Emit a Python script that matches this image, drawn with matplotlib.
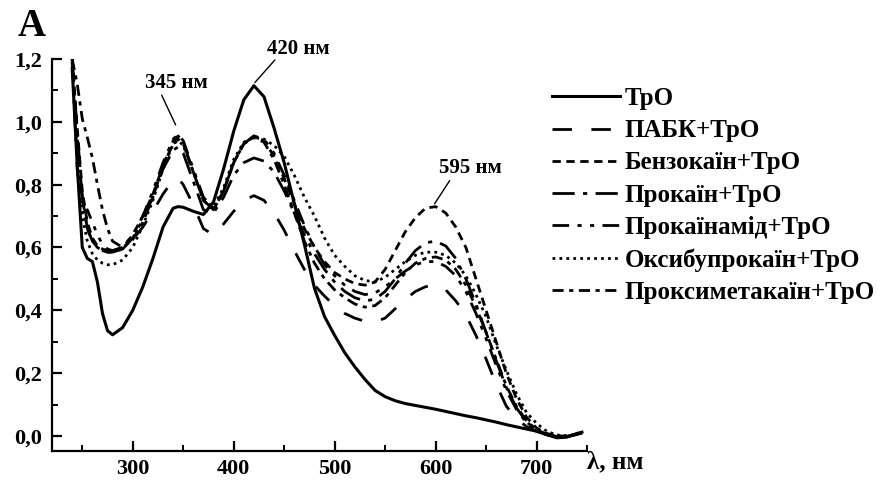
import matplotlib
matplotlib.use("Agg")
import matplotlib.pyplot as plt
from matplotlib.ticker import MultipleLocator, FuncFormatter

plt.rcParams['font.family'] = ['Liberation Serif', 'DejaVu Serif']
plt.rcParams['font.weight'] = 'bold'

wl = [240, 245, 250, 255, 260, 265, 270, 275, 280, 290, 300, 310, 320, 330, 340, 345, 350,
      360, 370, 380, 390, 400, 410, 420, 430, 440, 450, 460, 470, 480, 490, 500, 510, 520,
      530, 540, 550, 560, 570, 580, 590, 600, 610, 620, 630, 640, 650, 660, 670, 680, 690,
      700, 710, 720, 730, 740, 745]

tro = [1.17, 0.86, 0.60, 0.565, 0.555, 0.49, 0.39, 0.335, 0.322, 0.345, 0.40, 0.475, 0.565,
       0.665, 0.725, 0.73, 0.728, 0.715, 0.705, 0.745, 0.85, 0.97, 1.07, 1.115, 1.08, 0.98,
       0.87, 0.74, 0.61, 0.47, 0.38, 0.32, 0.265, 0.22, 0.18, 0.145, 0.125, 0.112, 0.103,
       0.097, 0.091, 0.085, 0.078, 0.071, 0.064, 0.058, 0.051, 0.044, 0.036, 0.029, 0.022,
       0.015, 0.004, -0.006, -0.004, 0.008, 0.012]

pabk = [1.19, 0.95, 0.76, 0.66, 0.62, 0.60, 0.59, 0.585, 0.585, 0.595, 0.625, 0.665, 0.715,
        0.77, 0.815, 0.82, 0.80, 0.735, 0.66, 0.64, 0.675, 0.715, 0.75, 0.765, 0.75, 0.71,
        0.655, 0.59, 0.53, 0.48, 0.445, 0.415, 0.39, 0.375, 0.365, 0.363, 0.375, 0.405, 0.435,
        0.46, 0.475, 0.48, 0.465, 0.43, 0.385, 0.32, 0.245, 0.165, 0.095, 0.055, 0.03, 0.015,
        0.004, -0.002, -0.002, 0.004, 0.008]

benzocaine = [1.2, 0.98, 0.78, 0.68, 0.63, 0.605, 0.595, 0.59, 0.59, 0.60, 0.64, 0.70, 0.77,
              0.86, 0.93, 0.945, 0.93, 0.84, 0.75, 0.72, 0.78, 0.87, 0.93, 0.955, 0.94, 0.89,
              0.82, 0.74, 0.66, 0.60, 0.555, 0.52, 0.50, 0.485, 0.48, 0.49, 0.53, 0.59, 0.65,
              0.695, 0.725, 0.73, 0.71, 0.665, 0.60, 0.50, 0.40, 0.30, 0.20, 0.12, 0.06, 0.025,
              0.008, 0.0, 0.0, 0.006, 0.01]

procaine = [1.2, 0.97, 0.76, 0.66, 0.62, 0.60, 0.59, 0.585, 0.585, 0.595, 0.63, 0.69, 0.76,
            0.85, 0.91, 0.92, 0.90, 0.81, 0.72, 0.71, 0.76, 0.83, 0.87, 0.885, 0.875, 0.84,
            0.78, 0.71, 0.64, 0.58, 0.53, 0.49, 0.46, 0.44, 0.43, 0.435, 0.46, 0.50, 0.55,
            0.59, 0.615, 0.62, 0.605, 0.565, 0.50, 0.42, 0.33, 0.24, 0.155, 0.09, 0.045, 0.018,
            0.004, -0.002, -0.002, 0.005, 0.009]

procainamide = [1.19, 0.85, 0.71, 0.72, 0.68, 0.64, 0.61, 0.595, 0.59, 0.60, 0.64, 0.70, 0.78,
                0.87, 0.945, 0.96, 0.94, 0.85, 0.76, 0.725, 0.78, 0.87, 0.93, 0.955, 0.945,
                0.90, 0.83, 0.75, 0.67, 0.60, 0.545, 0.51, 0.48, 0.46, 0.45, 0.455, 0.475,
                0.50, 0.525, 0.545, 0.555, 0.555, 0.54, 0.51, 0.46, 0.39, 0.31, 0.225, 0.145,
                0.085, 0.042, 0.017, 0.004, -0.002, -0.002, 0.005, 0.009]

oxybuprocaine = [1.2, 0.90, 0.70, 0.62, 0.58, 0.56, 0.55, 0.545, 0.545, 0.56, 0.60, 0.67, 0.75,
                 0.85, 0.93, 0.94, 0.925, 0.84, 0.75, 0.73, 0.79, 0.88, 0.935, 0.95, 0.945,
                 0.925, 0.89, 0.83, 0.76, 0.70, 0.63, 0.575, 0.54, 0.51, 0.495, 0.49, 0.505,
                 0.53, 0.555, 0.575, 0.585, 0.585, 0.575, 0.55, 0.51, 0.45, 0.38, 0.29, 0.21,
                 0.135, 0.075, 0.04, 0.015, 0.003, 0.0, 0.006, 0.01]

proxymetacaine = [1.2, 1.12, 1.01, 0.95, 0.885, 0.80, 0.72, 0.66, 0.62, 0.60, 0.625, 0.68,
                  0.76, 0.86, 0.94, 0.955, 0.935, 0.84, 0.75, 0.72, 0.78, 0.87, 0.93, 0.95,
                  0.935, 0.88, 0.80, 0.71, 0.62, 0.55, 0.50, 0.465, 0.44, 0.42, 0.41, 0.415,
                  0.44, 0.48, 0.52, 0.55, 0.565, 0.57, 0.56, 0.53, 0.48, 0.41, 0.33, 0.245,
                  0.16, 0.095, 0.048, 0.02, 0.005, -0.002, -0.002, 0.005, 0.009]

labels = ["ТрО", "ПАБК+ТрО", "Бензокаїн+ТрО", "Прокаїн+ТрО", "Прокаїнамід+ТрО",
          "Оксибупрокаїн+ТрО", "Проксиметакаїн+ТрО"]
series = [tro, pabk, benzocaine, procaine, procainamide, oxybuprocaine, proxymetacaine]
styles = ['-', (0, (7, 7)), (0, (3, 2)), (0, (8, 3, 1.5, 3)), (0, (6, 3, 1.5, 3, 1.5, 3)),
          (0, (1, 1.5)), (0, (4, 2, 1.5, 2))]

# peak annotations
peak_labels = ["345 нм", "420 нм", "595 нм"]
peak_text_xy = [(343.3, 1.123), (464.5, 1.232), (634.0, 0.854)]
peak_line_from = [(328.6, 1.085), (440.8, 1.197), (614.0, 0.813)]
peak_line_to = [(342.5, 0.99), (421.0, 1.125), (599.0, 0.739)]

fig = plt.figure(figsize=(8.9, 4.83), dpi=100)
ax = fig.add_axes([52/890, 1 - 451/483, (587-52)/890, (451-59)/483])

for y, lab, ls in zip(series, labels, styles):
    ax.plot(wl, y, color='black', lw=2.2 if ls == '-' else 2.0, linestyle=ls, label=lab)

ax.set_xlim(220, 750)
ax.set_ylim(-0.048, 1.2)
for s in ['top', 'right']:
    ax.spines[s].set_visible(False)
for s in ['left', 'bottom']:
    ax.spines[s].set_linewidth(1.6)

ax.xaxis.set_major_locator(MultipleLocator(100))
ax.xaxis.set_minor_locator(MultipleLocator(50))
ax.yaxis.set_major_locator(MultipleLocator(0.2))
ax.yaxis.set_minor_locator(MultipleLocator(0.1))
ax.yaxis.set_major_formatter(FuncFormatter(lambda v, p: f"{v:.1f}".replace('.', ',').replace('-0,0', '0,0')))
ax.tick_params(which='major', direction='in', length=7, width=1.6, labelsize=16, pad=7)
ax.tick_params(which='minor', direction='in', length=4, width=1.4)
ax.tick_params(axis='x', which='major', pad=6)
for t in ax.get_xticklabels() + ax.get_yticklabels():
    t.set_fontweight('bold')

fig.text(32/890, 1 - 27/483, "A", fontsize=28, fontweight='bold', va='center', ha='center')
fig.text(587/890, 1 - 462/483, "λ, нм", fontsize=18, fontweight='bold', va='center', ha='left')

for lab, txy, p0, p1 in zip(peak_labels, peak_text_xy, peak_line_from, peak_line_to):
    ax.text(txy[0], txy[1], lab, fontsize=15, fontweight='bold', ha='center', va='center',
            clip_on=False)
    ax.annotate("", xy=p1, xytext=p0, annotation_clip=False,
                arrowprops=dict(arrowstyle='-', lw=1.0, color='black', shrinkA=0, shrinkB=0))

leg = fig.legend(loc='upper left', bbox_to_anchor=(552/890, 1 - 87/483), frameon=False,
                 prop={'size': 18, 'weight': 'bold'}, handlelength=2.7, handletextpad=0.2,
                 labelspacing=0.37, borderaxespad=0, borderpad=0)

fig.savefig("out.png", dpi=100)
